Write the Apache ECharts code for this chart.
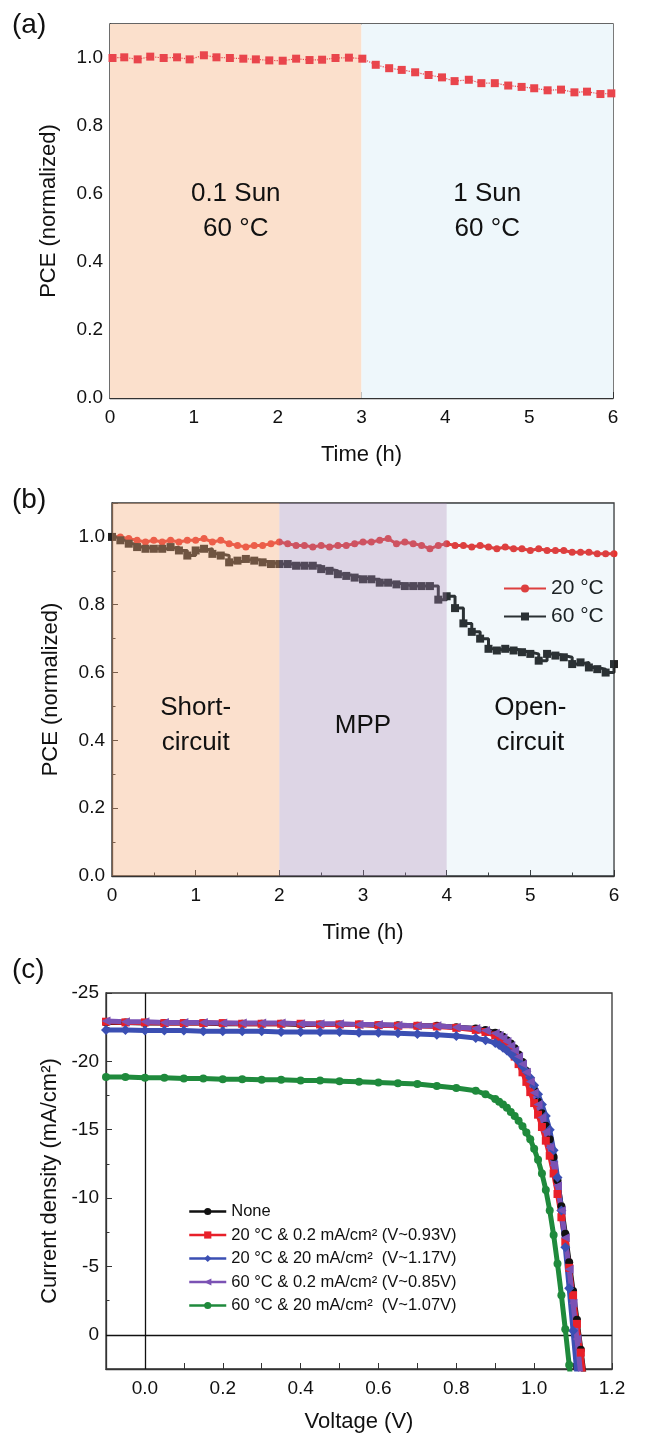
<!DOCTYPE html>
<html>
<head>
<meta charset="utf-8">
<script src="https://cdn.jsdelivr.net/npm/echarts@6/dist/echarts.min.js"></script>
<style>
  html, body { margin: 0; padding: 0; background: #fff; }
  #main { width: 660px; height: 1435px; }
</style>
</head>
<body>
<div id="main"></div>
<script>
// ---- panel (a): PCE under 0.1 sun / 1 sun at 60 C
const timeA = [0.03, 0.17, 0.33, 0.48, 0.64, 0.80, 0.95, 1.12, 1.27, 1.43, 1.59, 1.74, 1.90, 2.06, 2.22, 2.38, 2.53, 2.69, 2.85, 3.01,
  3.17, 3.33, 3.48, 3.64, 3.80, 3.96, 4.11, 4.28, 4.43, 4.59, 4.75, 4.91, 5.06, 5.22, 5.38, 5.54, 5.69, 5.85, 5.98];
const pceA = [1.0, 1.002, 0.996, 1.004, 1.0, 1.002, 0.996, 1.008, 1.002, 1.0, 0.998, 0.996, 0.993, 0.992, 0.998, 0.994, 0.995, 1.0, 1.001, 0.998,
  0.980, 0.970, 0.965, 0.958, 0.950, 0.943, 0.932, 0.936, 0.926, 0.926, 0.919, 0.915, 0.911, 0.905, 0.907, 0.899, 0.901, 0.894, 0.896];
const regionsA = [[0, 3, '0.1 Sun\n60 °C'], [3, 6, '1 Sun\n60 °C']];

// ---- panel (b): PCE under different bias conditions
const timeB = [0, 0.1, 0.2, 0.3, 0.4, 0.5, 0.6, 0.7, 0.8, 0.9, 1.0, 1.1, 1.2, 1.3, 1.4, 1.5, 1.6, 1.7, 1.8, 1.9,
  2.0, 2.1, 2.2, 2.3, 2.4, 2.5, 2.6, 2.7, 2.8, 2.9, 3.0, 3.1, 3.2, 3.3, 3.4, 3.5, 3.6, 3.7, 3.8, 3.9,
  4.0, 4.1, 4.2, 4.3, 4.4, 4.5, 4.6, 4.7, 4.8, 4.9, 5.0, 5.1, 5.2, 5.3, 5.4, 5.5, 5.6, 5.7, 5.8, 5.9, 6.0];
const pce20 = [1.0, 1.0, 0.995, 0.99, 0.985, 0.99, 0.985, 0.99, 0.985, 0.99, 0.99, 0.995, 0.985, 0.99, 0.98, 0.975, 0.97, 0.975, 0.975, 0.98,
  0.985, 0.98, 0.975, 0.975, 0.97, 0.975, 0.97, 0.975, 0.975, 0.98, 0.985, 0.985, 0.99, 0.995, 0.98, 0.985, 0.98, 0.975, 0.965, 0.975,
  0.98, 0.975, 0.975, 0.97, 0.975, 0.97, 0.965, 0.97, 0.965, 0.965, 0.96, 0.965, 0.96, 0.96, 0.96, 0.955, 0.955, 0.955, 0.95, 0.95, 0.95];
const pce60 = [1.0, 0.99, 0.98, 0.97, 0.965, 0.965, 0.965, 0.97, 0.96, 0.945, 0.96, 0.965, 0.95, 0.945, 0.925, 0.93, 0.935, 0.93, 0.925, 0.92,
  0.92, 0.92, 0.915, 0.915, 0.915, 0.905, 0.9, 0.89, 0.885, 0.88, 0.875, 0.875, 0.865, 0.865, 0.86, 0.855, 0.855, 0.855, 0.855, 0.815,
  0.825, 0.79, 0.745, 0.72, 0.7, 0.67, 0.665, 0.67, 0.665, 0.66, 0.655, 0.635, 0.655, 0.65, 0.645, 0.625, 0.63, 0.615, 0.61, 0.6, 0.625];
const regionsB = [[0, 2, 'Short-\ncircuit'], [2, 4, 'MPP'], [4, 6, 'Open-\ncircuit']];

// ---- panel (c): J-V curves
const voltage = [-0.1, -0.05, 0, 0.05, 0.1, 0.15, 0.2, 0.25, 0.3, 0.35, 0.4, 0.45, 0.5, 0.55, 0.6, 0.65, 0.7, 0.75, 0.8, 0.85, 0.875,
  0.9, 0.91, 0.92, 0.93, 0.94, 0.95, 0.96, 0.97, 0.98, 0.99, 1.0, 1.01, 1.02, 1.03, 1.04, 1.05, 1.06, 1.07, 1.08, 1.09, 1.1, 1.11, 1.12, 1.13];
const jNone = [-22.85, -22.85, -22.8, -22.8, -22.8, -22.8, -22.75, -22.75, -22.75, -22.75, -22.7, -22.7, -22.7, -22.7, -22.65, -22.65, -22.6, -22.6, -22.5, -22.4, -22.3,
  -22.1, -21.95, -21.8, -21.55, -21.3, -20.95, -20.5, -19.95, -19.3, -18.6, -17.85, -17.05, -16.2, -15.3, -14.3, -13.0, -11.3, -9.4, -7.4, -5.3, -3.2, -1.1, 1.1, 3.3];
const j20Low = [-22.9, -22.85, -22.85, -22.8, -22.8, -22.8, -22.8, -22.75, -22.75, -22.75, -22.75, -22.7, -22.7, -22.7, -22.65, -22.6, -22.6, -22.55, -22.45, -22.3, -22.15,
  -21.9, -21.7, -21.45, -21.15, -20.8, -20.35, -19.8, -19.2, -18.5, -17.75, -16.95, -16.1, -15.2, -14.2, -13.1, -11.8, -10.3, -8.6, -6.8, -4.9, -2.9, -0.8, 1.3, 3.5];
const j20High = [-22.3, -22.3, -22.25, -22.25, -22.25, -22.2, -22.2, -22.2, -22.2, -22.15, -22.15, -22.15, -22.15, -22.1, -22.1, -22.05, -22.0, -21.95, -21.85, -21.7, -21.55,
  -21.35, -21.2, -21.0, -20.8, -20.55, -20.3, -20.0, -19.65, -19.25, -18.8, -18.25, -17.6, -16.85, -16.0, -15.0, -13.5, -11.5, -9.1, -6.4, -3.4, -0.3, 2.9, 6.1, 9.3];
const j60Low = [-22.95, -22.9, -22.9, -22.85, -22.85, -22.85, -22.8, -22.8, -22.8, -22.8, -22.75, -22.75, -22.75, -22.7, -22.7, -22.65, -22.6, -22.6, -22.5, -22.4, -22.25,
  -22.05, -21.9, -21.7, -21.45, -21.15, -20.8, -20.35, -19.8, -19.2, -18.5, -17.7, -16.85, -15.9, -14.85, -13.7, -12.4, -10.9, -9.1, -7.1, -4.8, -2.3, 0.3, 3.0, 5.7];
const j60High = [-18.85, -18.85, -18.8, -18.8, -18.75, -18.75, -18.7, -18.7, -18.65, -18.65, -18.6, -18.6, -18.55, -18.5, -18.45, -18.4, -18.35, -18.2, -18.05, -17.85, -17.6,
  -17.25, -17.05, -16.85, -16.6, -16.3, -16.0, -15.65, -15.25, -14.8, -14.3, -13.6, -12.8, -11.8, -10.6, -9.1, -7.3, -5.2, -2.9, -0.4, 2.2, 5.0, 8.0, 11.0, 14.0];
const jvNames = ['None', '20 °C & 0.2 mA/cm² (V~0.93V)', '20 °C & 20 mA/cm²  (V~1.17V)', '60 °C & 0.2 mA/cm² (V~0.85V)', '60 °C & 20 mA/cm²  (V~1.07V)'];

const font = 'Liberation Sans, Arial, sans-serif';
const ink = '#111';
const axisColor = '#333';

function zip(xs, ys) {
  return xs.map((x, i) => [x, ys[i]]);
}

// common axis look: box frame, ticks pointing inwards
function baseAxis(extra) {
  return Object.assign({
    type: 'value',
    nameLocation: 'middle',
    nameTextStyle: { fontSize: 22, color: ink, fontFamily: font },
    axisLine: { show: true, onZero: false, lineStyle: { color: axisColor, width: 1.3 } },
    axisTick: { show: true, inside: true, length: 6, lineStyle: { color: axisColor, width: 1 } },
    minorTick: { show: true, splitNumber: 2, length: 3.5, lineStyle: { color: axisColor, width: 1 } },
    axisLabel: { fontSize: 19, color: ink, fontFamily: font },
    splitLine: { show: false },
    minorSplitLine: { show: false }
  }, extra);
}

function timeAxis(gridIndex) {
  return baseAxis({
    gridIndex: gridIndex, min: 0, max: 6, interval: 1,
    name: 'Time (h)', nameGap: 46,
    axisLabel: { fontSize: 19, color: ink, fontFamily: font, margin: 10 }
  });
}

function pceAxis(gridIndex) {
  return baseAxis({
    gridIndex: gridIndex, min: 0, max: 1.1, interval: 0.2,
    name: 'PCE (normalized)', nameGap: 50,
    axisLabel: {
      fontSize: 19, color: ink, fontFamily: font, margin: 7,
      formatter: v => (v > 1.05 ? '' : v.toFixed(1))
    }
  });
}

const gridBox = { show: true, borderColor: axisColor, borderWidth: 1.3, backgroundColor: 'transparent', containLabel: false };

const regionLabel = { show: true, position: 'inside', color: ink, fontSize: 26, fontFamily: font, lineHeight: 35 };

const chart = echarts.init(document.getElementById('main'));

const option = {
  animation: false,
  backgroundColor: '#fff',
  grid: [
    Object.assign({ left: 110, width: 503, top: 24, height: 374 }, gridBox),
    Object.assign({ left: 112, width: 502, top: 503, height: 373 }, gridBox),
    Object.assign({ left: 106, width: 506, top: 993, height: 376 }, gridBox)
  ],
  xAxis: [
    timeAxis(0),
    timeAxis(1),
    baseAxis({
      gridIndex: 2, min: -0.1, max: 1.2, interval: 0.1,
      name: 'Voltage (V)', nameGap: 42,
      minorTick: { show: false },
      axisLabel: {
        fontSize: 19, color: ink, fontFamily: font, margin: 10,
        formatter: v => (Math.abs(Math.round(v * 10)) % 2 === 0 ? v.toFixed(1) : '')
      }
    })
  ],
  yAxis: [
    pceAxis(0),
    pceAxis(1),
    baseAxis({
      gridIndex: 2, min: -25, max: 2.5, interval: 5, inverse: true,
      name: 'Current density (mA/cm²)', nameGap: 40,
      axisLabel: {
        fontSize: 19, color: ink, fontFamily: font, margin: 7,
        formatter: v => (v > 0.1 ? '' : String(Math.round(v)))
      }
    })
  ],
  legend: [
    {
      data: ['20 °C', '60 °C'],
      orient: 'vertical', left: 498, top: 573,
      itemWidth: 42, itemHeight: 10, itemGap: 7,
      lineStyle: { width: 2 },
      textStyle: { fontSize: 21, color: ink, fontFamily: font }
    },
    {
      data: jvNames,
      orient: 'vertical', left: 183, top: 1198,
      itemWidth: 37, itemHeight: 9, itemGap: 6.5,
      lineStyle: { width: 2.5 },
      textStyle: { fontSize: 16.5, color: ink, fontFamily: font }
    }
  ],
  graphic: [
    { type: 'text', left: 12, top: 11, style: { text: '(a)', fontSize: 28, fill: ink, fontFamily: font } },
    { type: 'text', left: 12, top: 486, style: { text: '(b)', fontSize: 28, fill: ink, fontFamily: font } },
    { type: 'text', left: 12, top: 956, style: { text: '(c)', fontSize: 28, fill: ink, fontFamily: font } }
  ],
  series: [
    // (a)
    {
      name: 'PCE a', type: 'line', xAxisIndex: 0, yAxisIndex: 0,
      data: zip(timeA, pceA),
      symbol: 'rect', symbolSize: 8,
      itemStyle: { color: '#e9454c' },
      lineStyle: { color: '#e9454c', width: 1.2, type: 'dotted' },
      markArea: {
        silent: true,
        label: regionLabel,
        data: regionsA.map((r, i) => [
          { xAxis: r[0], name: r[2], itemStyle: { color: i === 0 ? '#fbe0cc' : '#eef7fb' } },
          { xAxis: r[1] }
        ])
      }
    },
    // (b)
    {
      name: '20 °C', type: 'line', xAxisIndex: 1, yAxisIndex: 1,
      data: zip(timeB, pce20),
      symbol: 'circle', symbolSize: 7,
      itemStyle: { color: '#e8322e' },
      lineStyle: { color: '#e8322e', width: 3 }
    },
    {
      name: '60 °C', type: 'line', xAxisIndex: 1, yAxisIndex: 1,
      data: zip(timeB, pce60),
      step: 'end',
      symbol: 'rect', symbolSize: 8,
      itemStyle: { color: '#222' },
      lineStyle: { color: '#222', width: 3 }
    },
    {
      name: 'regions b', type: 'line', xAxisIndex: 1, yAxisIndex: 1,
      data: [],
      markArea: {
        silent: true,
        z: 10,
        label: Object.assign({}, regionLabel, { offset: [0, 36] }),
        data: regionsB.map((r, i) => [
          {
            xAxis: r[0], name: r[2],
            itemStyle: { color: ['rgba(245,170,120,0.37)', 'rgba(162,141,184,0.37)', 'rgba(130,190,220,0.10)'][i] }
          },
          { xAxis: r[1] }
        ])
      }
    },
    // (c)
    {
      name: jvNames[0], type: 'line', xAxisIndex: 2, yAxisIndex: 2,
      data: zip(voltage, jNone),
      symbol: 'circle', symbolSize: 8,
      itemStyle: { color: '#111' }, lineStyle: { color: '#111', width: 5 },
      markLine: {
        silent: true, symbol: 'none', z: 1,
        label: { show: false },
        lineStyle: { color: '#111', width: 1.3, type: 'solid' },
        data: [{ xAxis: 0 }, { yAxis: 0 }]
      }
    },
    {
      name: jvNames[1], type: 'line', xAxisIndex: 2, yAxisIndex: 2,
      data: zip(voltage, j20Low),
      symbol: 'rect', symbolSize: 8,
      itemStyle: { color: '#e8202a' }, lineStyle: { color: '#e8202a', width: 5 }
    },
    {
      name: jvNames[2], type: 'line', xAxisIndex: 2, yAxisIndex: 2,
      data: zip(voltage, j20High),
      symbol: 'diamond', symbolSize: 10,
      itemStyle: { color: '#3b4fb3' }, lineStyle: { color: '#3b4fb3', width: 5 }
    },
    {
      name: jvNames[3], type: 'line', xAxisIndex: 2, yAxisIndex: 2,
      data: zip(voltage, j60Low),
      symbol: 'triangle', symbolRotate: 90, symbolSize: 9,
      itemStyle: { color: '#7b52b4' }, lineStyle: { color: '#7b52b4', width: 5 }
    },
    {
      name: jvNames[4], type: 'line', xAxisIndex: 2, yAxisIndex: 2,
      data: zip(voltage, j60High),
      symbol: 'circle', symbolSize: 8,
      itemStyle: { color: '#1f8a3c' }, lineStyle: { color: '#1f8a3c', width: 5 }
    }
  ]
};

chart.setOption(option);
</script>
</body>
</html>
